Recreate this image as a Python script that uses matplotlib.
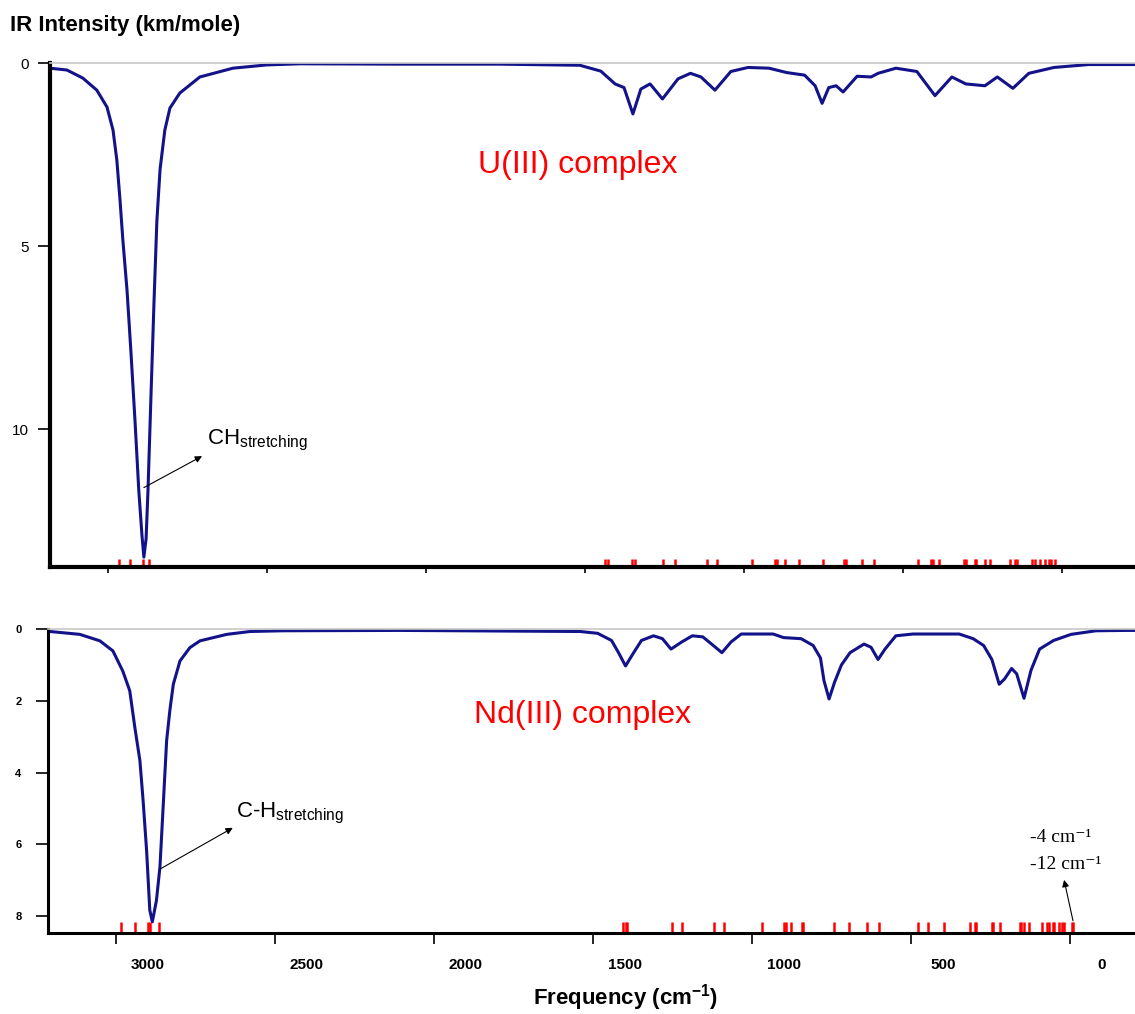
# 2つの錯体のIRスペクトル (U(III) と Nd(III)) を上下に並べて描く
import matplotlib.pyplot as plt

plt.rcParams['font.family'] = ['Liberation Sans', 'DejaVu Sans']
plt.rcParams['mathtext.fontset'] = 'custom'
plt.rcParams['mathtext.rm'] = 'Liberation Sans'
plt.rcParams['mathtext.bf'] = 'Liberation Sans:bold'
plt.rcParams['mathtext.it'] = 'Liberation Sans:italic'

# U(III) complex spectrum (cm-1, km/mole)
u_freq = [3282, 3229, 3179, 3135, 3103, 3084, 3072, 3062, 3053, 3040, 3028, 3015,
          3003, 2993, 2987, 2980, 2974, 2965, 2955, 2946, 2936, 2921, 2905, 2874,
          2811, 2707, 2600, 2496, 2182, 1867, 1616, 1550, 1505, 1477, 1449, 1424,
          1395, 1356, 1307, 1268, 1235, 1191, 1141, 1087, 1021, 965, 909, 876,
          854, 833, 810, 788, 744, 700, 678, 622, 556, 499, 446, 402, 342, 303,
          254, 204, 125, 15, -95, -130]
u_int = [0.14, 0.19, 0.41, 0.74, 1.20, 1.83, 2.65, 3.74, 4.84, 6.20, 7.84, 9.75,
         11.67, 12.9, 13.5, 13.0, 11.67, 9.2, 6.5, 4.3, 2.9, 1.83, 1.23, 0.82,
         0.38, 0.14, 0.05, 0.02, 0.03, 0.03, 0.06, 0.22, 0.57, 0.67, 1.39, 0.71,
         0.57, 0.98, 0.43, 0.28, 0.38, 0.74, 0.23, 0.12, 0.14, 0.26, 0.33, 0.62,
         1.10, 0.67, 0.62, 0.79, 0.36, 0.38, 0.28, 0.14, 0.23, 0.89, 0.38, 0.57,
         0.62, 0.38, 0.69, 0.28, 0.12, 0.04, 0.04, 0.04]
u_modes = [3065, 3031, 2990, 2971, 1538, 1528, 1453, 1443, 1355, 1317, 1216, 1185,
           1073, 1003, 995, 971, 927, 852, 786, 779, 729, 691, 554, 512, 506, 487,
           408, 402, 374, 369, 343, 325, 264, 248, 242, 194, 185, 169, 153, 141,
           135, 122]

# Nd(III) complex spectrum
nd_freq = [3308, 3214, 3151, 3110, 3079, 3057, 3041, 3025, 3015, 3004, 2994, 2986,
           2973, 2962, 2952, 2941, 2931, 2920, 2899, 2868, 2836, 2752, 2679, 2575,
           2207, 1641, 1586, 1542, 1520, 1498, 1476, 1448, 1410, 1382, 1355, 1321,
           1288, 1255, 1222, 1195, 1166, 1134, 1034, 1001, 946, 908, 885, 874, 858,
           841, 819, 792, 748, 726, 704, 682, 648, 594, 449, 405, 372, 346, 323,
           306, 284, 268, 245, 223, 196, 152, 97, 19, -79, -104]
nd_int = [0.07, 0.15, 0.33, 0.61, 1.17, 1.72, 2.74, 3.67, 4.78, 6.17, 7.83, 8.16,
          7.56, 6.63, 4.96, 3.11, 2.28, 1.54, 0.89, 0.52, 0.33, 0.15, 0.07, 0.05,
          0.04, 0.07, 0.12, 0.32, 0.66, 1.03, 0.71, 0.32, 0.19, 0.27, 0.56, 0.36,
          0.19, 0.22, 0.46, 0.66, 0.36, 0.14, 0.14, 0.24, 0.27, 0.46, 0.81, 1.44,
          1.95, 1.49, 1.00, 0.66, 0.42, 0.51, 0.85, 0.56, 0.19, 0.14, 0.14, 0.27,
          0.46, 0.85, 1.54, 1.39, 1.10, 1.25, 1.93, 1.15, 0.56, 0.32, 0.15, 0.05,
          0.04, 0.04]
nd_modes = [3083, 3041, 3001, 2992, 2964, 1505, 1498, 1492, 1353, 1320, 1220, 1189,
            1068, 999, 992, 979, 944, 941, 841, 794, 740, 702, 578, 546, 497, 415,
            399, 395, 345, 341, 319, 258, 253, 244, 229, 190, 173, 166, 155, 150,
            135, 127, 120, 95, 92]

tick_pos = [3100, 2600, 2100, 1600, 1100, 600, 100]
freq_labels = [3000, 2500, 2000, 1500, 1000, 500, 0]

line_color = '#12128a'


def style(ax, lw):
    ax.spines['right'].set_visible(False)
    ax.spines['top'].set_color('#c8c8c8')
    ax.spines['top'].set_linewidth(1.2)
    ax.spines['left'].set_linewidth(lw)
    ax.spines['bottom'].set_linewidth(lw)


fig = plt.figure(figsize=(11.35, 10.14), dpi=100)

# --- upper panel: U(III)
ax1 = fig.add_axes([0.0441, 0.4408, 0.9559, 0.497])
ax1.plot(u_freq, u_int, color=line_color, lw=2.2)
ax1.vlines(u_modes, 0, 0.016, color='red', lw=1.8, transform=ax1.get_xaxis_transform())
ax1.set_xlim(3282, -130)
ax1.set_ylim(13.77, 0)
style(ax1, 3)
ax1.set_xticks(tick_pos)
ax1.set_xticklabels([])
ax1.tick_params(axis='x', length=4, width=1.2)
ax1.set_yticks([0, 5, 10])
ax1.tick_params(axis='y', length=9, width=1.2, pad=6, labelsize=11)
ax1.text(1622, 2.79, 'U(III) complex', color='red', fontsize=23, ha='center', va='center')
ax1.annotate('', xy=(2804, 10.74), xytext=(2987, 11.6),
             arrowprops=dict(arrowstyle='-|>', color='k', lw=0.8, mutation_scale=10,
                             shrinkA=0, shrinkB=0))
ax1.text(2789, 10.41, r'CH$_{\mathrm{stretching}}$', fontsize=16, ha='left', va='baseline')

# --- lower panel: Nd(III)
ax2 = fig.add_axes([0.0423, 0.0799, 0.9577, 0.2998])
ax2.plot(nd_freq, nd_int, color=line_color, lw=2.2)
ax2.vlines(nd_modes, 0, 0.036, color='red', lw=1.8, transform=ax2.get_xaxis_transform())
ax2.set_xlim(3314, -104)
ax2.set_ylim(8.47, 0)
style(ax2, 2.2)
ax2.set_xticks(freq_labels)
ax2.set_xticklabels([str(v) for v in freq_labels], fontweight='bold', fontsize=11)
ax2.tick_params(axis='x', which='major', length=0, pad=18)
ax2.set_xticks(tick_pos, minor=True)
ax2.tick_params(axis='x', which='minor', length=8, width=1.2)
ax2.set_yticks([0, 2, 4, 6, 8])
ax2.set_yticklabels(['0', '2', '4', '6', '8'], fontweight='bold', fontsize=8)
ax2.tick_params(axis='y', length=9, width=1.2, pad=10)
ax2.text(1632, 2.4, 'Nd(III) complex', color='red', fontsize=23, ha='center', va='center')
ax2.annotate('', xy=(2733, 5.54), xytext=(2962, 6.69),
             arrowprops=dict(arrowstyle='-|>', color='k', lw=0.8, mutation_scale=10,
                             shrinkA=0, shrinkB=0))
ax2.text(2723, 5.24, r'C-H$_{\mathrm{stretching}}$', fontsize=16, ha='left', va='baseline')
ax2.annotate('', xy=(119, 6.99), xytext=(91, 8.13),
             arrowprops=dict(arrowstyle='-|>', color='k', lw=0.8, mutation_scale=10,
                             shrinkA=0, shrinkB=0))
serif = ['Liberation Serif', 'DejaVu Serif']
ax2.text(225, 5.82, '-4 cm\u207b\u00b9', family=serif, fontsize=14, ha='left', va='center')
ax2.text(225, 6.55, '-12 cm\u207b\u00b9', family=serif, fontsize=14, ha='left', va='center')

fig.text(0.0088, 0.975, 'IR Intensity (km/mole)', fontsize=16, fontweight='bold',
         ha='left', va='center')
fig.text(0.551, 0.016, r'Frequency (cm$^{\mathbf{-1}}$)', fontsize=16, fontweight='bold',
         ha='center', va='center')

fig.savefig('out.png', dpi=100)
